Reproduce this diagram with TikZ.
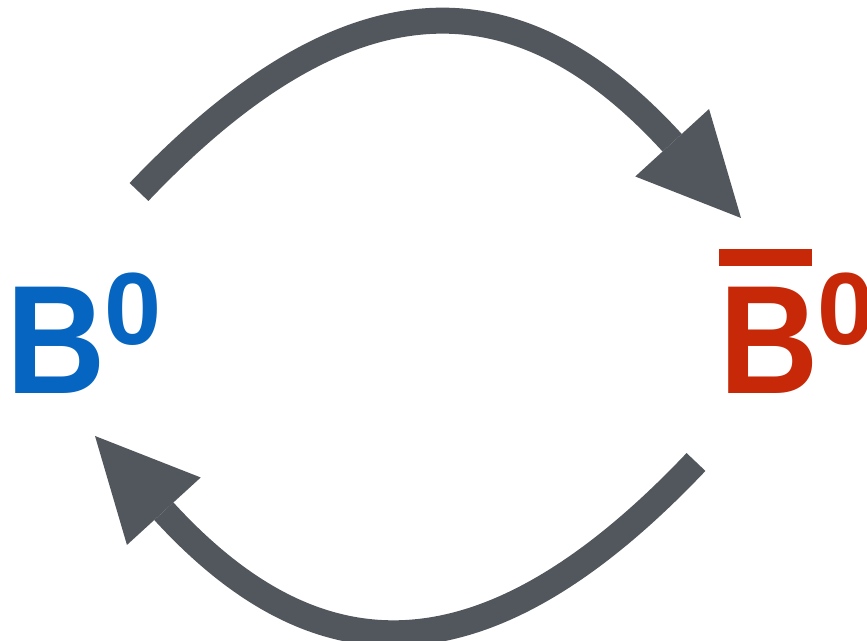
\documentclass[tikz,border=0pt]{standalone}
\usepackage{graphicx}
\usepackage{fontspec}
\setmainfont{Liberation Sans}
\usepackage{tikz}
\usetikzlibrary{arrows.meta, positioning}

\definecolor{mesonblue}{HTML}{0565C0}
\definecolor{mesonred}{HTML}{C62808}
\definecolor{arrowgray}{HTML}{52575E}

\newcommand{\letterB}{\scalebox{0.89}[1]{B}}
\newcommand{\supzero}{\kern-0.6pt\raisebox{28.3pt}{\fontsize{58.4}{60}\selectfont 0}}
\newcommand{\barB}{\rlap{\rule[72.6pt]{52.7pt}{10.2pt}}\letterB}

\begin{document}
\begin{tikzpicture}[
    x=0.02cm, y=0.02cm,
    meson/.style={inner sep=0pt, anchor=base west,
                  font=\fontsize{88}{100}\selectfont\bfseries},
    arr/.style={-{Triangle[length=2.04cm, width=2cm, line width=0pt]},
                line width=0.52cm, color=arrowgray},
]
    \useasboundingbox (0,0) rectangle (867,641);

    % Nodes
    \node[meson, text=mesonblue] (b0) at (6,247) {\letterB\supzero};
    \node[meson, text=mesonred] (b0bar) at (719,247) {\barB\supzero};

    % Arrow ends
    \coordinate (top start) at (139,449);
    \coordinate (top end) at (741,423);
    \coordinate (low start) at (696,179);
    \coordinate (low end) at (95,205);

    % Arrows
    \draw[arr] (top start) .. controls (359,680) and (526,658) .. (top end);
    \draw[arr] (low start) .. controls (477,-52) and (310,-30) .. (low end);
\end{tikzpicture}
\end{document}
